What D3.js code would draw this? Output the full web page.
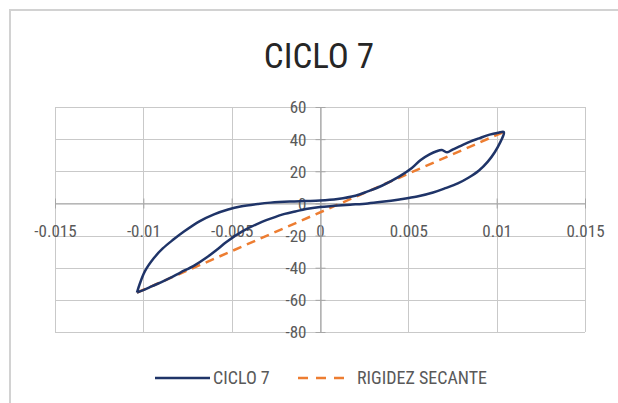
<!DOCTYPE html>
<html>
<head>
<meta charset="utf-8">
<script src="https://cdn.jsdelivr.net/npm/d3@7"></script>
<style>
  html, body { margin: 0; padding: 0; background: #fff; }
  svg { display: block; }
  text { font-family: "Liberation Sans Narrow", "Arial Narrow", "Roboto Condensed", sans-serif; }
</style>
</head>
<body>
<svg id="chart" width="618" height="403"></svg>
<script>
// ---- Data ----
const title = "CICLO 7";
const seriesNames = ["CICLO 7", "RIGIDEZ SECANTE"];
const xTicks = [-0.015, -0.01, -0.005, 0, 0.005, 0.01, 0.015];
const xTickLabels = ["-0.015", "-0.01", "-0.005", "0", "0.005", "0.01", "0.015"];
const yTicks = [60, 40, 20, 0, -20, -40, -60, -80];
const yTickLabels = ["60", "40", "20", "0", "-20", "-40", "-60", "-80"];

// CICLO 7 hysteresis loop: upper path (negative tip -> positive tip), then lower path back
const cicloX = [
  -0.01036, -0.0102, -0.0099, -0.0094, -0.0089, -0.0083, -0.0077, -0.0068, -0.0060, -0.0052,
  -0.0045, -0.0035, -0.0028, -0.0017, -0.0008, 0.0000, 0.0010, 0.0020, 0.0027, 0.0035,
  0.0045, 0.0052, 0.0057, 0.0062, 0.0066, 0.0069, 0.0072, 0.0075, 0.0079, 0.0085,
  0.0090, 0.0096, 0.0101, 0.0104,
  0.0104, 0.0102, 0.0099, 0.0095, 0.0090, 0.0084, 0.0078, 0.0071, 0.0064, 0.0055,
  0.0045, 0.0035, 0.0027, 0.0017, 0.0008, 0.0000, -0.0008, -0.0014, -0.0020, -0.0028,
  -0.0036, -0.0044, -0.0053, -0.0058, -0.0064, -0.0071, -0.0079, -0.0088, -0.0095, -0.0100,
  -0.01036
];
const cicloY = [
  -55.5, -50, -42, -34, -28, -22.5, -17.5, -11, -6.8, -3.8,
  -1.9, -0.3, 0.5, 1.2, 1.5, 1.8, 2.8, 4.8, 7.5, 11,
  16.8, 22, 27, 30.5, 32.5, 33.2, 31.8, 33.5, 35.5, 38.5,
  40.5, 42.8, 44, 44.5,
  43, 38, 32, 26, 20.5, 16, 12.5, 9.5, 6.8, 4.3,
  2.5, 1, 0, -0.8, -1.5, -2.2, -3.5, -5, -6.5, -9.5,
  -13, -17.4, -24, -28.5, -33.5, -38.5, -43, -48, -51.5, -54,
  -55.5
];

// RIGIDEZ SECANTE: straight secant between the two peaks
const secanteX = [-0.01036, 0.0104];
const secanteY = [-55.5, 44.5];

// ---- Layout ----
const svg = d3.select("#chart");
const x = d3.scaleLinear().domain([-0.015, 0.015]).range([55, 585]);
const y = d3.scaleLinear().domain([-80, 60]).range([332, 107]);

const gridColor = "#c9c9c9";
const labelColor = "#595959";

// chart frame (top + left edges visible)
svg.append("rect")
  .attr("x", 10).attr("y", 10)
  .attr("width", 640).attr("height", 420)
  .attr("fill", "none").attr("stroke", "#d2d2d2").attr("stroke-width", 2);

// Title
svg.append("text")
  .attr("x", 319).attr("y", 68)
  .attr("text-anchor", "middle")
  .attr("font-size", 35)
  .attr("fill", "#262626")
  .text(title);

// Gridlines
const grid = svg.append("g");
grid.selectAll("line.h").data(yTicks).join("line")
  .attr("x1", x(-0.015)).attr("x2", x(0.015))
  .attr("y1", d => Math.round(y(d)) + 0.5).attr("y2", d => Math.round(y(d)) + 0.5)
  .attr("stroke", gridColor).attr("stroke-width", 1);
grid.selectAll("line.v").data(xTicks).join("line")
  .attr("y1", y(60)).attr("y2", y(-80))
  .attr("x1", d => Math.round(x(d)) + 0.5).attr("x2", d => Math.round(x(d)) + 0.5)
  .attr("stroke", gridColor).attr("stroke-width", 1);

// Axes lines through origin
const xAxis = d3.axisBottom(x).tickValues(xTicks).tickSize(0).tickFormat((d, i) => xTickLabels[i]);
const gx = svg.append("g").attr("transform", `translate(0,${Math.round(y(0)) + 0.5})`).call(xAxis);
gx.select(".domain").attr("stroke", "#a6a6a6").attr("stroke-width", 1.2);
gx.selectAll("text").attr("font-size", 17).attr("fill", labelColor).attr("dy", null).attr("y", 33);

const yAxis = d3.axisLeft(y).tickValues(yTicks).tickSize(0).tickFormat((d, i) => yTickLabels[i]);
const gy = svg.append("g").attr("transform", `translate(${Math.round(x(0)) + 0.5},0)`).call(yAxis);
gy.select(".domain").attr("stroke", "#a6a6a6").attr("stroke-width", 1.2);
gy.selectAll("text").attr("font-size", 17).attr("fill", labelColor).attr("x", -14).attr("dy", "0.35em");

// tick marks crossing the axes
gy.selectAll(".tick").append("line").attr("x1", -5).attr("x2", 5).attr("stroke", "#a6a6a6");
gx.selectAll(".tick").append("line").attr("y1", -5).attr("y2", 5).attr("stroke", "#a6a6a6");

// Series
const line = d3.line().x(d => x(d[0])).y(d => y(d[1])).curve(d3.curveCatmullRom.alpha(0.5));
const cicloPts = cicloX.map((v, i) => [v, cicloY[i]]);
const secPts = secanteX.map((v, i) => [v, secanteY[i]]);

svg.append("path").datum(secPts)
  .attr("d", d3.line().x(d => x(d[0])).y(d => y(d[1])))
  .attr("fill", "none").attr("stroke", "#ED7D31").attr("stroke-width", 2.5)
  .attr("stroke-dasharray", "9,6");

svg.append("path").datum(cicloPts)
  .attr("d", line)
  .attr("fill", "none").attr("stroke", "#1f3468").attr("stroke-width", 2.5)
  .attr("stroke-linejoin", "round");

// Legend
const legend = svg.append("g");
const ly = 378;
legend.append("line").attr("x1", 155).attr("x2", 210).attr("y1", ly).attr("y2", ly)
  .attr("stroke", "#1f3468").attr("stroke-width", 2.5);
legend.append("text").attr("x", 213).attr("y", ly).attr("dy", "0.35em")
  .attr("font-size", 18).attr("fill", labelColor).text(seriesNames[0]);
legend.append("line").attr("x1", 298).attr("x2", 351).attr("y1", ly).attr("y2", ly)
  .attr("stroke", "#ED7D31").attr("stroke-width", 2.5).attr("stroke-dasharray", "10,8");
legend.append("text").attr("x", 357).attr("y", ly).attr("dy", "0.35em")
  .attr("font-size", 18).attr("fill", labelColor).text(seriesNames[1]);
</script>
</body>
</html>
